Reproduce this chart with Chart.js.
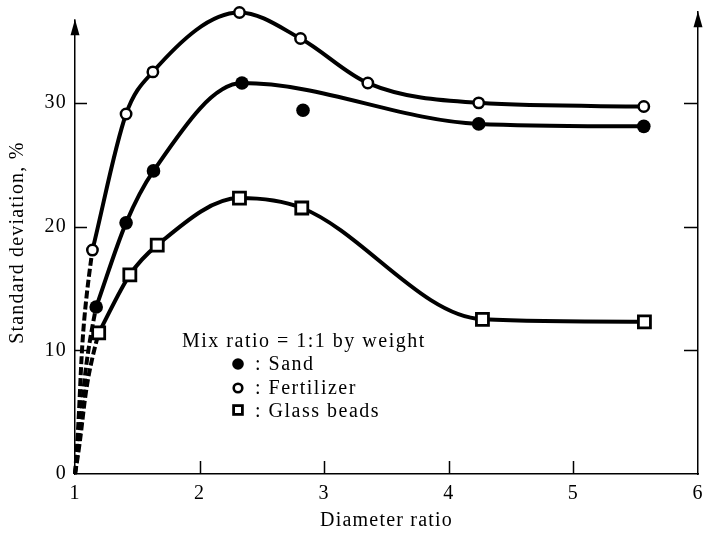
<!DOCTYPE html>
<html><head><meta charset="utf-8">
<script src="https://cdn.jsdelivr.net/npm/chart.js@4/dist/chart.umd.min.js"></script>
<style>html,body{margin:0;padding:0;background:#fff}canvas{display:block}</style>
</head><body>
<canvas id="c" width="711" height="538"></canvas>
<script>
// ---- data ----
const xTickValues = [1, 2, 3, 4, 5, 6];
const yTickValues = [0, 10, 20, 30];
const originPoint = [1, 0];

const fertX = [1.14, 1.41, 1.625, 2.32, 2.81, 3.35, 4.24, 5.565];
const fertY = [18.1, 29.1, 32.5, 37.3, 35.2, 31.6, 30.0, 29.7];

const sandX = [1.17, 1.41, 1.63, 2.34, 2.83, 4.24, 5.565];
const sandY = [13.5, 20.3, 24.5, 31.6, 29.4, 28.3, 28.1];
const sandOnCurve = [true, true, true, true, false, true, true];

const glassX = [1.19, 1.44, 1.66, 2.32, 2.82, 4.27, 5.57];
const glassY = [11.4, 16.1, 18.5, 22.3, 21.5, 12.5, 12.3];

const legendTitle = 'Mix ratio = 1:1 by weight';
const legendItems = [': Sand', ': Fertilizer', ': Glass beads'];
const xTitle = 'Diameter ratio';
const yTitle = 'Standard deviation, %';

// ---- helpers ----
const pts = (xs, ys, keep) => xs.map((x, i) => ({x, y: ys[i]})).filter((p, i) => !keep || keep[i]);
const origin = {x: originPoint[0], y: originPoint[1]};
const SERIF = "'Liberation Serif', 'Times New Roman', serif";
const font20 = {family: SERIF, size: 20};

const curve = (data) => ({
  data, showLine: true, borderColor: '#000', borderWidth: 4, pointRadius: 0,
  cubicInterpolationMode: 'monotone', clip: false, order: 2
});
// dashed extrapolation from the origin to the first measured point;
// the second point only shapes the bend and its segment stays invisible
const dashed = (p1, p2) => ({
  data: [origin, p1, p2], showLine: true, borderWidth: 4, tension: 0.45,
  borderColor: '#000', borderDash: [8, 3], pointRadius: 0, clip: false, order: 2,
  segment: {borderColor: c => c.p0DataIndex === 0 ? '#000' : 'rgba(0,0,0,0)'}
});

const fertPts = pts(fertX, fertY);
const sandPts = pts(sandX, sandY);
const glassPts = pts(glassX, glassY);

const datasets = [
  curve(fertPts),
  curve(pts(sandX, sandY, sandOnCurve)),
  curve(glassPts),
  dashed(fertPts[0], fertPts[1]), dashed(sandPts[0], sandPts[1]), dashed(glassPts[0], glassPts[1]),
  {data: sandPts, showLine: false, pointStyle: 'circle', pointRadius: 6.8,
   backgroundColor: '#000', borderColor: '#000', borderWidth: 0, clip: false, order: 1},
  {data: fertPts, showLine: false, pointStyle: 'circle', pointRadius: 5.2,
   backgroundColor: '#fff', borderColor: '#000', borderWidth: 2.5, clip: false, order: 1},
  {data: glassPts, showLine: false, pointStyle: 'rect', pointRadius: 8.5,
   backgroundColor: '#fff', borderColor: '#000', borderWidth: 2.8, clip: false, order: 1}
];

const spacingPlugin = {
  id: 'spacing',
  beforeDraw(chart) { chart.ctx.letterSpacing = '1.2px'; }
};

const decorPlugin = {
  id: 'decor',
  afterDraw(chart) {
    const ctx = chart.ctx, xs = chart.scales.x, ys = chart.scales.y, ca = chart.chartArea;
    ctx.save();
    ctx.strokeStyle = '#000'; ctx.fillStyle = '#000'; ctx.lineWidth = 1.5;
    // inward ticks
    ctx.beginPath();
    yTickValues.filter(v => v > 0).forEach(v => {
      const py = Math.round(ys.getPixelForValue(v)) + 0.5;
      ctx.moveTo(ca.left, py); ctx.lineTo(ca.left + 12, py);
      ctx.moveTo(ca.right, py); ctx.lineTo(ca.right - 14, py);
    });
    xTickValues.filter(v => v > 1 && v < 6).forEach(v => {
      const px = Math.round(xs.getPixelForValue(v)) + 0.5;
      ctx.moveTo(px, ca.bottom); ctx.lineTo(px, ca.bottom - 13);
    });
    ctx.stroke();
    // arrows on the two vertical axes (white-out the axis line above the left tip)
    const arrow = (x, tip) => {
      ctx.beginPath();
      ctx.moveTo(x, tip); ctx.lineTo(x - 4.5, tip + 16); ctx.lineTo(x + 4.5, tip + 16);
      ctx.closePath(); ctx.fill();
    };
    if (ca.top + 8 > ca.top) {
      ctx.save(); ctx.fillStyle = '#fff';
      ctx.fillRect(ca.left - 2, ca.top - 1, 4, 9);
      ctx.restore();
    }
    arrow(ca.left, ca.top + 8);
    arrow(ca.right, ca.top);
    // legend block
    ctx.letterSpacing = '1.5px';
    ctx.font = '20px ' + SERIF;
    ctx.textAlign = 'left'; ctx.textBaseline = 'alphabetic';
    ctx.fillText(legendTitle, 182, 347);
    const mx = 238, tx = 255;
    const rows = [364, 388, 410], bases = [370, 394, 417];
    legendItems.forEach((t, i) => ctx.fillText(t, tx, bases[i]));
    // filled circle
    ctx.beginPath(); ctx.arc(mx, rows[0], 5.8, 0, Math.PI * 2); ctx.fill();
    // open circle
    ctx.lineWidth = 2.6;
    ctx.beginPath(); ctx.arc(mx, rows[1], 4.3, 0, Math.PI * 2); ctx.stroke();
    // square
    ctx.lineWidth = 2.8;
    ctx.strokeRect(mx - 4.4, rows[2] - 4.4, 8.8, 8.8);
    ctx.restore();
  }
};

new Chart(document.getElementById('c'), {
  type: 'scatter',
  data: {datasets},
  plugins: [spacingPlugin, decorPlugin],
  options: {
    responsive: false, animation: false, devicePixelRatio: 1,
    layout: {padding: {top: 0, left: 0, right: 0, bottom: 0}},
    plugins: {legend: {display: false}, tooltip: {enabled: false}},
    scales: {
      x: {
        type: 'linear', min: 1, max: 6,
        afterFit: s => { s.height = 64; },
        afterBuildTicks: s => { s.ticks = xTickValues.map(v => ({value: v})); },
        ticks: {color: '#000', font: font20, padding: 8, maxRotation: 0, autoSkip: false},
        grid: {display: false, drawTicks: false},
        border: {display: true, color: '#000', width: 1.5},
        title: {display: true, text: xTitle, color: '#000', font: font20, padding: {top: 0, bottom: 5}}
      },
      y: {
        type: 'linear', position: 'left', min: 0, max: 37.4,
        afterFit: s => { s.width = 75; },
        afterBuildTicks: s => { s.ticks = yTickValues.map(v => ({value: v})); },
        ticks: {color: '#000', font: {family: SERIF, size: 20, lineHeight: 0.2}, padding: 8},
        grid: {display: false, drawTicks: false},
        border: {display: true, color: '#000', width: 1.5},
        title: {display: true, text: yTitle, color: '#000', font: font20, padding: {top: 6, bottom: 0}}
      },
      y2: {
        type: 'linear', position: 'right', min: 0, max: 37.4,
        afterFit: s => { s.width = 4; },
        ticks: {display: false},
        grid: {display: false, drawTicks: false},
        border: {display: true, color: '#000', width: 1.5}
      }
    }
  }
});
</script>
</body></html>
